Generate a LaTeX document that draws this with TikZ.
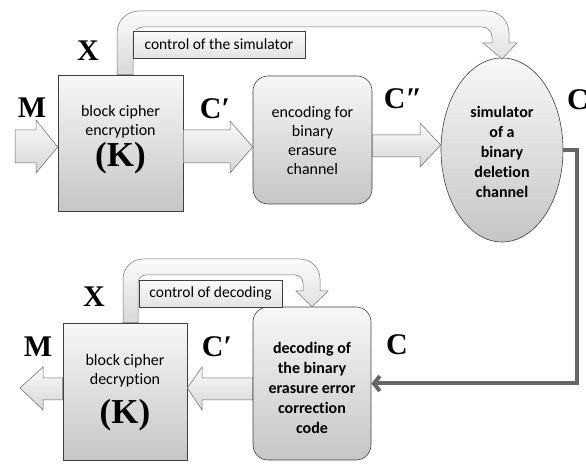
\documentclass[tikz,border=0pt]{standalone}
\usepackage{fontspec}
\setmainfont{Carlito}[Ligatures={NoCommon}]
\newfontfamily\tms{Liberation Serif}
\usetikzlibrary{shapes.geometric,arrows.meta}
\begin{document}
\begin{tikzpicture}[x=1pt,y=1pt,
  shadebox/.style={draw=black!75, line width=0.6pt, top color=gray!6, bottom color=gray!45, inner sep=0pt},
  roundbox/.style={shadebox, rounded corners=15pt},
  barrow/.style={draw=black!60, line width=0.5pt, top color=gray!4, bottom color=gray!32},
  carrow/.style={draw=black!55, line width=0.5pt, top color=gray!3, bottom color=gray!30},
  lbox/.style={draw=black!75, line width=0.6pt, top color=gray!4, bottom color=gray!22, inner sep=0pt, font=\fontsize{15.5}{18}\selectfont},
  txt/.style={align=center, font=\fontsize{16}{19}\selectfont, inner sep=0pt},
  btxt/.style={align=center, font=\fontsize{16}{20}\selectfont\bfseries, inner sep=0pt},
  sym/.style={font=\tms\fontsize{30}{30}\selectfont\bfseries, inner sep=0pt},
  kay/.style={font=\tms\fontsize{35}{35}\selectfont\bfseries, inner sep=0pt},
  fb/.style={draw=gray!80!black, line width=4pt, -{Straight Barb[length=6pt,width=15pt]}}]
\useasboundingbox (0,0) rectangle (586,463);

% nodes
\node[shadebox, minimum width=125pt, minimum height=136pt] (b1) at (120.5,320) {};
\node[roundbox, minimum width=119pt, minimum height=128pt] (b2) at (312.5,323) {};
\node[shadebox, ellipse, minimum width=122pt, minimum height=184pt] (sim) at (502,313) {};
\node[roundbox, minimum width=118pt, minimum height=153pt] (dec) at (312,79.5) {};
\node[shadebox, minimum width=124pt, minimum height=137pt] (dcr) at (125,71.5) {};

% control arrows
\draw[carrow] (117,0 |- b1.north) -- (117,430) arc[start angle=180,end angle=90,radius=22] -- (487,452)
  arc[start angle=90,end angle=0,radius=22] -- (509,420) -- (517,420) -- (502,404) -- (483,420) -- (492,420) -- (492,426)
  arc[start angle=0,end angle=90,radius=10] -- (143,436) arc[start angle=90,end angle=180,radius=10] -- (133,0 |- b1.north) -- cycle;
\draw[carrow] (123,0 |- dcr.north) -- (123,184) arc[start angle=180,end angle=90,radius=20] -- (300,204)
  arc[start angle=90,end angle=0,radius=20] -- (320,172) -- (328,172) -- (312,0 |- dec.north) -- (296,172) -- (303,172) -- (303,180)
  arc[start angle=0,end angle=90,radius=8] -- (146,188) arc[start angle=90,end angle=180,radius=8] -- (138,0 |- dcr.north) -- cycle;

\node[lbox, minimum width=172pt, minimum height=27pt] (l1) at (219,418.5) {control of the simulator};
\node[lbox, minimum width=143pt, minimum height=27pt] (l2) at (210.5,169.5) {control of decoding};

% block arrows
\coordinate (min) at (15,316);
\draw[barrow] (min |- 0,333) -- (36,333) -- (36,343) -- (b1.west |- 0,316) -- (36,290) -- (36,300) -- (min |- 0,300) -- cycle;
\draw[barrow] (b1.east |- 0,333) -- (230,333) -- (230,342) -- (b2.west |- 0,316) -- (230,290) -- (230,300) -- (b1.east |- 0,300) -- cycle;
\draw[barrow] (b2.east |- 0,328) -- (420,328) -- (420,340) -- (sim.west |- 0,318) -- (420,296) -- (420,306) -- (b2.east |- 0,306) -- cycle;
\draw[barrow] (dec.west |- 0,85) -- (202,85) -- (202,96) -- (dcr.east |- 0,75) -- (202,53) -- (202,63) -- (dec.west |- 0,63) -- cycle;
\coordinate (mout) at (20,75);
\draw[barrow] (dcr.west |- 0,85) -- (43,85) -- (43,96) -- (mout) -- (43,53) -- (43,63) -- (dcr.west |- 0,63) -- cycle;

% feedback
\draw[fb] (sim.east) -- ++(14,0) |- (dec.east);

% texts
\node[txt] (t1) at (120.5,341) {block cipher\\encryption};
\node[kay] (k1) at (120.5,305) {(K)};
\node[txt] (t2) at (312.5,322) {encoding for\\binary\\erasure\\channel};
\node[btxt] (t3) at (502,311) {simulator\\of a\\binary\\deletion\\channel};
\node[btxt] (t4) at (312,75) {decoding of\\the binary\\erasure error\\correction\\code};
\node[txt] (t5) at (125,92) {block cipher\\decryption};
\node[kay] (k2) at (125,48) {(K)};

% symbols
\node[sym] (sM1) at (32,355) {M};
\node[sym] (sX1) at (88,412) {X};
\node[sym] (sC1) at (215,354) {C′};
\node[sym] (sC2) at (403,364) {C″};
\node[sym] (sC3) at (578,363) {C};
\node[sym] (sX2) at (94,166) {X};
\node[sym] (sM2) at (38,116) {M};
\node[sym] (sC4) at (217,116) {C′};
\node[sym] (sC5) at (397,118) {C};
\end{tikzpicture}
\end{document}
